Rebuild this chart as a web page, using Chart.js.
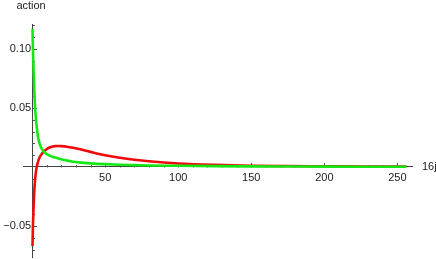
<!DOCTYPE html>
<html>
<head>
<meta charset="utf-8">
<script src="https://cdn.jsdelivr.net/npm/chart.js@4.4.1/dist/chart.umd.min.js"></script>
<style>
  html, body { margin: 0; padding: 0; background: #ffffff; }
  #wrap { position: relative; width: 436px; height: 259px; }
</style>
</head>
<body>
<div id="wrap"><canvas id="c"></canvas></div>
<script>
// x values (16j)
const xValues = [0.3, 0.6, 1, 1.5, 2, 2.5, 3, 3.5, 4, 5, 6, 7, 8, 10, 12, 14, 16, 18, 20, 24, 28, 32, 40, 50, 60, 70, 80, 100, 125, 150, 175, 200, 225, 256];
// red series
const redValues = [-0.067, -0.050, -0.035, -0.021, -0.012, -0.0055, -0.0012, 0.0018, 0.0042, 0.0076, 0.0099, 0.0117, 0.0131, 0.0152, 0.0165, 0.0173, 0.0177, 0.0178, 0.0177, 0.0172, 0.0163, 0.0152, 0.0128, 0.0100, 0.0078, 0.0061, 0.0048, 0.0030, 0.0018, 0.0011, 0.0008, 0.0006, 0.0004, 0.0003];
// green series
const greenValues = [0.117, 0.100, 0.083, 0.066, 0.052, 0.043, 0.036, 0.031, 0.026, 0.0205, 0.0170, 0.0147, 0.0130, 0.0110, 0.0096, 0.0087, 0.0080, 0.0072, 0.0066, 0.0054, 0.0045, 0.0039, 0.0031, 0.0024, 0.0019, 0.0016, 0.0013, 0.0010, 0.0007, 0.0005, 0.0004, 0.0003, 0.00025, 0.0002];
// labelled ticks
const xTickLabels = [50, 100, 150, 200, 250];
const yTickLabels = [-0.05, 0.05, 0.10];
// all tick marks (major + minor)
const xMinorTicks = [10, 20, 30, 40, 50, 60, 70, 80, 90, 100, 110, 120, 130, 140, 150, 160, 170, 180, 190, 200, 210, 220, 230, 240, 250];
const yMinorTicks = [-0.07, -0.06, -0.05, -0.04, -0.03, -0.02, -0.01, 0.01, 0.02, 0.03, 0.04, 0.05, 0.06, 0.07, 0.08, 0.09, 0.10, 0.11, 0.12];
const xTitle = '16j';
const yTitle = 'action';

const FONT = 'Liberation Sans, Arial, Helvetica, sans-serif';
const TXT = '#222222';
const AXIS = '#444444';

function near(a, b) { return Math.abs(a - b) < 1e-9; }

const tickPlugin = {
  id: 'mmaTicks',
  beforeDatasetsDraw(chart) {
    const ctx = chart.ctx;
    const xs = chart.scales.x, ys = chart.scales.y;
    const y0 = Math.round(ys.getPixelForValue(0)) + 0.5;
    const x0 = Math.round(xs.getPixelForValue(0)) + 0.5;
    ctx.save();
    ctx.strokeStyle = '#555555';
    ctx.lineWidth = 1;
    ctx.beginPath();
    xMinorTicks.forEach(v => {
      const major = xTickLabels.some(t => near(t, v));
      const px = Math.round(xs.getPixelForValue(v)) + 0.5;
      ctx.moveTo(px, y0);
      ctx.lineTo(px, y0 - (major ? 4.5 : 2.5));
    });
    yMinorTicks.forEach(v => {
      const major = yTickLabels.some(t => near(t, v));
      const py = Math.round(ys.getPixelForValue(v)) + 0.5;
      ctx.moveTo(x0, py);
      ctx.lineTo(x0 + (major ? 4.5 : 2.5), py);
    });
    ctx.stroke();
    ctx.restore();
  },
  afterDraw(chart) {
    const ctx = chart.ctx;
    const xs = chart.scales.x, ys = chart.scales.y;
    ctx.save();
    ctx.fillStyle = TXT;
    ctx.font = '11px ' + FONT;
    ctx.textAlign = 'center';
    ctx.textBaseline = 'alphabetic';
    ctx.fillText(yTitle, xs.getPixelForValue(0) - 1, chart.chartArea.top - 15.5);
    ctx.textAlign = 'left';
    ctx.textBaseline = 'middle';
    ctx.fillText(xTitle, chart.chartArea.right + 10, ys.getPixelForValue(0));
    ctx.restore();
  }
};

new Chart(document.getElementById('c'), {
  type: 'line',
  data: {
    datasets: [
      {
        label: 'green',
        data: xValues.map((x, i) => ({ x: x, y: greenValues[i] })),
        borderColor: 'rgb(20, 232, 20)',
        borderWidth: 2.6,
        pointRadius: 0,
        fill: false,
        cubicInterpolationMode: 'monotone',
        order: 0
      },
      {
        label: 'red',
        data: xValues.map((x, i) => ({ x: x, y: redValues[i] })),
        borderColor: 'rgb(240, 10, 10)',
        borderWidth: 2.6,
        pointRadius: 0,
        fill: false,
        cubicInterpolationMode: 'monotone',
        order: 1
      }
    ]
  },
  options: {
    responsive: true,
    maintainAspectRatio: false,
    animation: false,
    devicePixelRatio: 1,
    layout: { padding: { left: 23, right: 24, top: 24, bottom: 2 } },
    plugins: { legend: { display: false }, tooltip: { enabled: false } },
    scales: {
      x: {
        type: 'linear',
        position: { y: 0 },
        min: -6.2,
        max: 260,
        bounds: 'data',
        afterBuildTicks: (scale) => { scale.ticks = xTickLabels.map(v => ({ value: v })); },
        grid: { display: false, drawTicks: false },
        border: { display: true, color: AXIS, width: 1 },
        ticks: {
          autoSkip: false,
          maxRotation: 0,
          padding: 4,
          color: TXT,
          font: { family: FONT, size: 11 },
          callback: (v) => String(v)
        }
      },
      y: {
        type: 'linear',
        position: { x: 0 },
        min: -0.0763,
        max: 0.1212,
        bounds: 'data',
        afterBuildTicks: (scale) => { scale.ticks = yTickLabels.map(v => ({ value: v })); },
        grid: { display: false, drawTicks: false },
        border: { display: true, color: AXIS, width: 1 },
        ticks: {
          autoSkip: false,
          padding: 0,
          color: TXT,
          font: { family: FONT, size: 11, lineHeight: 0.1 },
          callback: (v) => (v < 0 ? '\u2212' : '') + Math.abs(v).toFixed(2) + '\u200A'
        }
      }
    }
  },
  plugins: [tickPlugin]
});
</script>
</body>
</html>
